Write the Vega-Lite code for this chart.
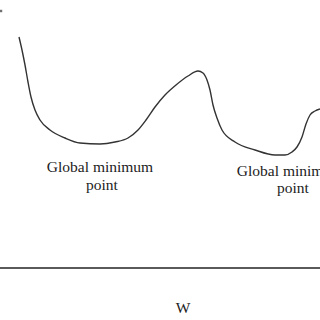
{
  "$schema": "https://vega.github.io/schema/vega-lite/v6.json",
  "width": 320,
  "height": 320,
  "padding": 0,
  "autosize": {"type": "none"},
  "background": "white",
  "config": {"view": {"stroke": null}},
  "datasets": {
    "curve": [
      {"w": 19, "e": 37}, {"w": 22, "e": 50}, {"w": 25, "e": 65}, {"w": 28, "e": 82},
      {"w": 31, "e": 97}, {"w": 35, "e": 110}, {"w": 40, "e": 120}, {"w": 50, "e": 130},
      {"w": 65, "e": 138}, {"w": 80, "e": 143}, {"w": 100, "e": 144}, {"w": 115, "e": 142},
      {"w": 128, "e": 138}, {"w": 138, "e": 130}, {"w": 146, "e": 120}, {"w": 155, "e": 107},
      {"w": 165, "e": 95}, {"w": 176, "e": 85}, {"w": 188, "e": 76}, {"w": 198, "e": 71}, {"w": 203, "e": 73},
      {"w": 207, "e": 80}, {"w": 210, "e": 90}, {"w": 213, "e": 105}, {"w": 217, "e": 118},
      {"w": 222, "e": 130}, {"w": 235, "e": 142}, {"w": 255, "e": 150}, {"w": 275, "e": 155},
      {"w": 285, "e": 155}, {"w": 292, "e": 152}, {"w": 297, "e": 147}, {"w": 302, "e": 137},
      {"w": 306, "e": 124}, {"w": 310, "e": 115}, {"w": 315, "e": 111}, {"w": 320, "e": 109}
    ],
    "baseline": [{"w": 0, "w2": 320, "e": 268}],
    "labels": [
      {"w": 100, "e": 167, "t": "Global minimum"},
      {"w": 102, "e": 185, "t": "point"},
      {"w": 290, "e": 171, "t": "Global minimum"},
      {"w": 293, "e": 188, "t": "point"},
      {"w": 183, "e": 308, "t": "W"}
    ],
    "dot": [{"w": 1, "e": 11}]
  },
  "layer": [
    {
      "data": {"name": "baseline"},
      "mark": {"type": "rule", "stroke": "#5a5a5a", "strokeWidth": 2},
      "encoding": {
        "x": {"field": "w", "type": "quantitative", "scale": {"domain": [0, 320]}, "axis": null},
        "x2": {"field": "w2"},
        "y": {"field": "e", "type": "quantitative", "scale": {"domain": [0, 320], "reverse": true}, "axis": null}
      }
    },
    {
      "data": {"name": "curve"},
      "mark": {"type": "line", "interpolate": "monotone", "stroke": "#333333", "strokeWidth": 1.4, "clip": true},
      "encoding": {
        "x": {"field": "w", "type": "quantitative", "scale": {"domain": [0, 320]}, "axis": null},
        "y": {"field": "e", "type": "quantitative", "scale": {"domain": [0, 320], "reverse": true}, "axis": null}
      }
    },
    {
      "data": {"name": "labels"},
      "mark": {"type": "text", "font": "Liberation Serif", "fontSize": 15.5, "color": "#222222", "align": "center", "baseline": "middle"},
      "encoding": {
        "x": {"field": "w", "type": "quantitative", "scale": {"domain": [0, 320]}, "axis": null},
        "y": {"field": "e", "type": "quantitative", "scale": {"domain": [0, 320], "reverse": true}, "axis": null},
        "text": {"field": "t"}
      }
    },
    {
      "data": {"name": "dot"},
      "mark": {"type": "point", "shape": "square", "filled": true, "size": 6, "color": "#333333"},
      "encoding": {
        "x": {"field": "w", "type": "quantitative", "scale": {"domain": [0, 320]}, "axis": null},
        "y": {"field": "e", "type": "quantitative", "scale": {"domain": [0, 320], "reverse": true}, "axis": null}
      }
    }
  ]
}
